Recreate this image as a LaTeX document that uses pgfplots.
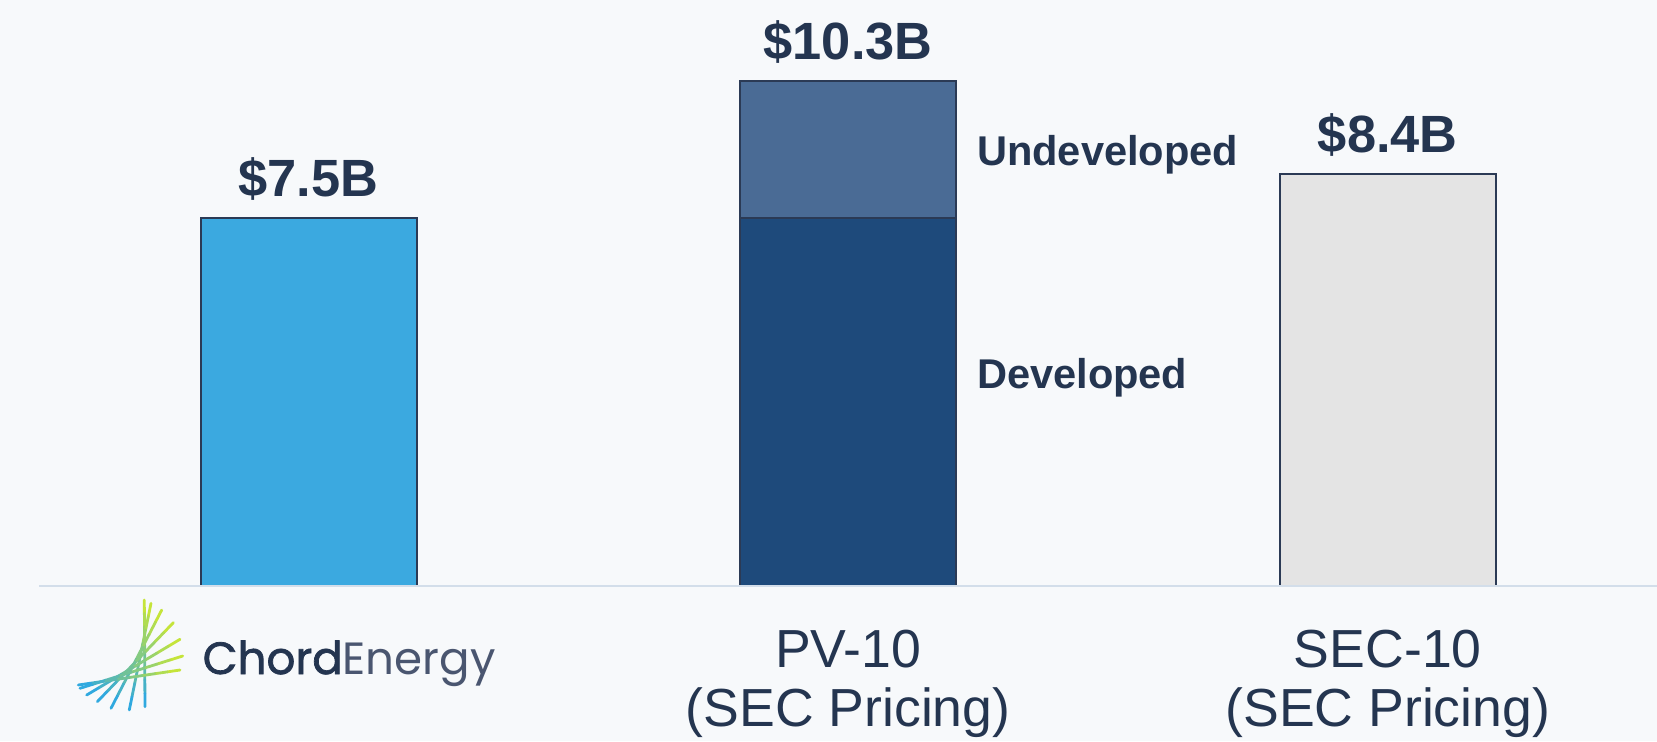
\documentclass[border=0pt]{standalone}
\usepackage{fontspec}
\setmainfont{Liberation Sans}
\newfontfamily\popfont{Poppins}
\newfontfamily\popbold[FakeBold=1.6]{Poppins}
\usepackage{graphicx}
\usepackage{pgfplots}
\pgfplotsset{compat=1.18}
\usetikzlibrary{calc}
\definecolor{bg}{HTML}{F7F9FB}
\definecolor{txt}{HTML}{243550}
\definecolor{barA}{HTML}{3BA9E0}
\definecolor{devc}{HTML}{1E4A7B}
\definecolor{undev}{HTML}{4A6B95}
\definecolor{secc}{HTML}{E4E4E4}
\definecolor{edge}{HTML}{2B3A55}
\definecolor{baseln}{HTML}{D3DEEA}
\definecolor{lgreen}{HTML}{C5E43A}
\definecolor{lblue}{HTML}{30A9DF}
\definecolor{engray}{HTML}{4A5670}
\begin{document}
\begin{tikzpicture}
\fill[bg] (0,0) rectangle (828.5pt,370.5pt);
\begin{axis}[
  at={(0pt,77.5pt)}, anchor=south west,
  scale only axis, width=828.5pt, height=293pt,
  xmin=-0.5719, xmax=2.4989, ymin=0, ymax=11.947,
  axis x line*=bottom, axis y line=none,
  x axis line style={draw=none},
  ybar stacked, bar width=108pt,
  xtick={1,2}, xticklabels={{PV-10\\(SEC Pricing)},{SEC-10\\(SEC Pricing)}},
  major tick length=0pt,
  xticklabel style={align=center, font=\fontsize{26.8}{29.5}\selectfont, text=txt, inner sep=0pt, anchor=north, yshift=-21.6pt},
  clip=false,
]
\draw[baseln, line width=1pt] (axis cs:-0.4996,0) -- (axis cs:2.4989,0);
\addplot[fill=barA, draw=edge, line width=1.1pt] coordinates {(0,7.5) (1,0) (2,0)};
\addplot[fill=devc, draw=edge, line width=1.1pt] coordinates {(0,0) (1,7.5) (2,0)};
\addplot[fill=undev, draw=edge, line width=1.1pt] coordinates {(0,0) (1,2.8) (2,0)};
\addplot[fill=secc, draw=edge, line width=1.1pt] coordinates {(0,0) (1,0) (2,8.4)};
\node[anchor=base, text=txt, font=\fontsize{26.2}{30}\selectfont\bfseries, yshift=10.7pt] at (axis cs:0,7.5) {\$7.5B};
\node[anchor=base, text=txt, font=\fontsize{26.2}{30}\selectfont\bfseries, yshift=10.7pt] at (axis cs:1,10.3) {\$10.3B};
\node[anchor=base, text=txt, font=\fontsize{26.2}{30}\selectfont\bfseries, yshift=10.7pt] at (axis cs:2,8.4) {\$8.4B};
\node[anchor=base west, inner sep=0pt, text=txt, font=\fontsize{20.8}{24}\selectfont\bfseries] at (axis cs:1.238,8.583) {Undeveloped};
\node[anchor=base west, inner sep=0pt, text=txt, font=\fontsize{20.8}{24}\selectfont\bfseries] at (axis cs:1.238,4.02) {Developed};
\end{axis}
% logo (decoration)
\begin{scope}[x=0.5pt,y=-0.5pt,shift={(0pt,370.5pt)}]
\foreach \ax/\ay/\bx/\by in {144.3/600/145/706.7, 151/603.3/129.3/710, 161.7/610/111/708.3, 173.3/622.7/97.3/701.7, 180/639.3/86.7/695, 182.7/656/80/688.3, 180/670/78.3/685}{
  \foreach \i in {0,...,7}{
    \pgfmathsetmacro\p{100-100*\i/7}
    \draw[line width=1.4pt, color=lgreen!\p!lblue, line cap=round] ($(\ax,\ay)!\i/8!(\bx,\by)$) -- ($(\ax,\ay)!{(\i+1)/8}!(\bx,\by)$);
  }
}
\node[anchor=base west, inner sep=0pt] at (202.3,674) {\resizebox{146.5pt}{!}{\fontsize{21.5}{24}\selectfont{\popbold\color{txt}Chord}{\popfont\color{engray}Energy}}};
\end{scope}
\pgfresetboundingbox
\useasboundingbox (0,0) rectangle (828.5pt,370.5pt);
\end{tikzpicture}
\end{document}
